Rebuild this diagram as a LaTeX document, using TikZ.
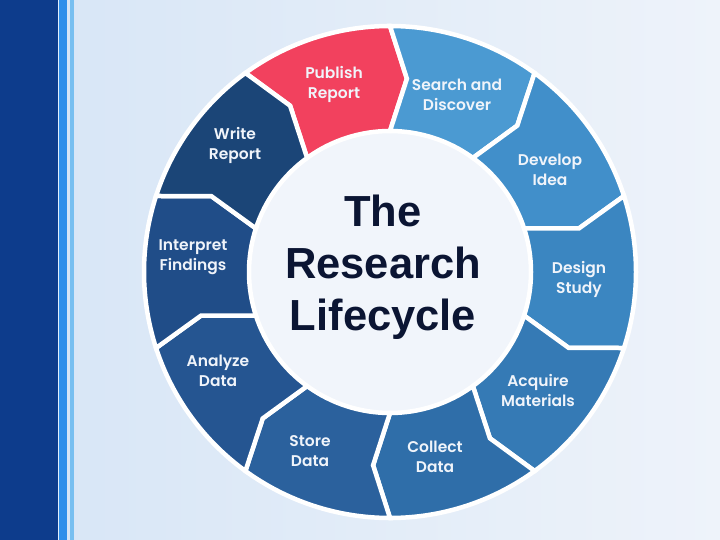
\documentclass[tikz,border=0pt]{standalone}
\usepackage{fontspec}
\setmainfont{Liberation Sans}
\newfontfamily\segfont{Poppins}[BoldFont={Poppins SemiBold}]
\usetikzlibrary{calc}
\definecolor{bgA}{HTML}{D6E5F6}
\definecolor{bgB}{HTML}{EEF3FA}
\definecolor{barDark}{HTML}{0D3C8C}
\definecolor{barMid}{HTML}{2F8FEA}
\definecolor{barLight}{HTML}{78BFF0}
\definecolor{cPub}{HTML}{F2415E}
\definecolor{cSea}{HTML}{4B9AD2}
\definecolor{cDev}{HTML}{418FCA}
\definecolor{cDes}{HTML}{3B86C1}
\definecolor{cAcq}{HTML}{357AB5}
\definecolor{cCol}{HTML}{2F6EA9}
\definecolor{cSto}{HTML}{2B619D}
\definecolor{cAna}{HTML}{255591}
\definecolor{cInt}{HTML}{204D88}
\definecolor{cWri}{HTML}{1B4577}
\definecolor{centerFill}{HTML}{F1F5FB}
\definecolor{titleCol}{HTML}{0B1533}
\definecolor{labelCol}{HTML}{F0F4FA}
\tikzset{
  seglabel/.style={text=labelCol, font=\segfont\bfseries\fontsize{15.5}{20}\selectfont, align=center, inner sep=0pt},
  segment/.style={draw=white, line width=4.5pt, line join=miter},
  title/.style={text=titleCol, font=\bfseries\fontsize{43.5}{52}\selectfont, align=center, inner sep=0pt}
}
\begin{document}
\begin{tikzpicture}[x=1pt,y=1pt]
\useasboundingbox (0,0) rectangle (720,-540);
% background
\shade[left color=bgA, right color=bgB] (0,0) rectangle (720,-540);
\fill[barDark] (0,0) rectangle (58,-540);
\fill[white!85!barMid] (58,0) rectangle (59,-540);
\fill[barMid] (59,0) rectangle (67,-540);
\fill[barLight] (70,0) rectangle (74,-540);
% ring
\begin{scope}[shift={(390,-272)}]
\fill[centerFill] (0,0) circle[radius=143];
\foreach \s/\col in {126/cPub,90/cSea,54/cDev,18/cDes,-18/cAcq,-54/cCol,-90/cSto,-126/cAna,-162/cInt,162/cWri}{
  \filldraw[segment, fill=\col]
    (\s:246) arc[start angle=\s, end angle=\s-36, radius=246]
    -- (\s-41:194) -- (\s-36:141)
    arc[start angle=\s-36, end angle=\s, radius=141]
    -- (\s-5:194) -- cycle;
}
\end{scope}
% labels
\node[seglabel] (pub) at (334,-84) {Publish\\Report};
\node[seglabel] (sea) at (457,-95) {Search and\\Discover};
\node[seglabel] (dev) at (550,-170) {Develop\\Idea};
\node[seglabel] (des) at (579,-279) {Design\\Study};
\node[seglabel] (acq) at (538,-390) {Acquire\\Materials};
\node[seglabel] (col) at (435,-457) {Collect\\Data};
\node[seglabel] (sto) at (310,-451) {Store\\Data};
\node[seglabel] (ana) at (218,-371) {Analyze\\Data};
\node[seglabel] (int) at (193,-257) {Interpret\\Findings};
\node[seglabel] (wri) at (235,-145) {Write\\Report};
\node[title] (ttl) at (383,-267) {The\\Research\\Lifecycle};
\end{tikzpicture}
\end{document}
